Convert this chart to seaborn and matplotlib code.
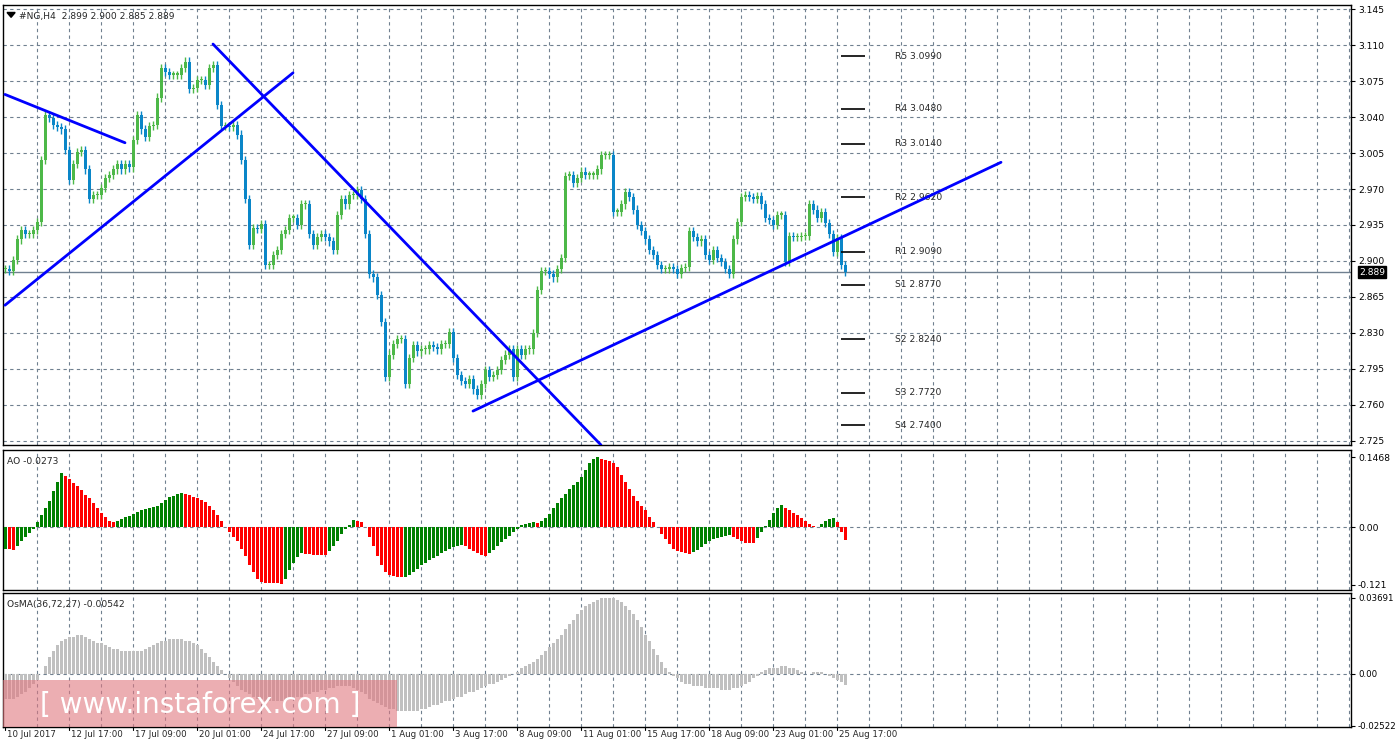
import numpy as np
import matplotlib
matplotlib.use("Agg")
import matplotlib.pyplot as plt
import seaborn as sns
from matplotlib.patches import Rectangle

# ── data ──────────────────────────────────────────────
closes = [
    2.892, 2.890, 2.901, 2.921, 2.930, 2.926, 2.926, 2.930, 2.938, 2.998,
    3.042, 3.039, 3.032, 3.030, 3.028, 3.008, 2.979, 2.994, 3.006, 3.008,
    2.989, 2.960, 2.964, 2.964, 2.971, 2.981, 2.984, 2.989, 2.994, 2.989,
    2.994, 2.991, 3.018, 3.042, 3.028, 3.021, 3.031, 3.032, 3.059, 3.088,
    3.084, 3.081, 3.081, 3.081, 3.088, 3.094, 3.067, 3.068, 3.076, 3.076,
    3.071, 3.088, 3.091,
    3.052, 3.031, 3.031, 3.030, 3.032, 3.023, 2.998, 2.960, 2.916, 2.932,
    2.931, 2.936, 2.896, 2.896, 2.906, 2.911, 2.926, 2.930, 2.942, 2.942,
    2.935, 2.955, 2.955, 2.926, 2.916, 2.923, 2.926, 2.923, 2.919, 2.911,
    2.945, 2.960, 2.955, 2.964, 2.964, 2.969, 2.960, 2.926, 2.887, 2.884,
    2.867, 2.841, 2.787, 2.809, 2.819, 2.824, 2.824, 2.780, 2.806, 2.818,
    2.812, 2.814, 2.814, 2.818, 2.816, 2.814, 2.819, 2.819,
    2.831, 2.806, 2.789, 2.783, 2.780, 2.785, 2.775, 2.770, 2.780, 2.794,
    2.787, 2.789, 2.794, 2.804, 2.809, 2.814, 2.787, 2.814, 2.809, 2.814,
    2.814, 2.830, 2.872, 2.890, 2.890, 2.887, 2.884, 2.892, 2.903, 2.983,
    2.984, 2.976, 2.981, 2.987, 2.984, 2.984, 2.984, 2.989, 3.003, 3.003,
    3.003, 2.948, 2.948, 2.955, 2.967, 2.962, 2.950, 2.935, 2.929, 2.921,
    2.911, 2.906, 2.896, 2.892, 2.892, 2.894, 2.892, 2.887, 2.893, 2.894,
    2.929, 2.923, 2.919, 2.921, 2.906, 2.901, 2.911, 2.903, 2.899, 2.892,
    2.887, 2.921, 2.938, 2.962, 2.964, 2.962, 2.960, 2.963, 2.955, 2.942,
    2.940, 2.935, 2.945, 2.945, 2.899, 2.924, 2.923, 2.923, 2.924, 2.924,
    2.955, 2.950, 2.942, 2.948, 2.937, 2.926, 2.909, 2.922, 2.896, 2.889,
]

ao = [
    -0.046, -0.046, -0.048, -0.040, -0.030, -0.020, -0.012, -0.005, 0.010, 0.025,
    0.040, 0.055, 0.075, 0.095, 0.113, 0.108, 0.100, 0.093, 0.085, 0.077,
    0.068, 0.060, 0.050, 0.040, 0.030, 0.020, 0.012, 0.010, 0.012, 0.016,
    0.020, 0.024, 0.028, 0.032, 0.036, 0.038, 0.040, 0.042, 0.044, 0.050,
    0.056, 0.062, 0.066, 0.070, 0.071, 0.070, 0.068, 0.064, 0.060, 0.056,
    0.052, 0.045, 0.035, 0.025, 0.012, 0.000, -0.010, -0.020, -0.030, -0.045,
    -0.060, -0.080, -0.095, -0.108, -0.115, -0.118, -0.118, -0.118, -0.118, -0.119,
    -0.108, -0.090, -0.075, -0.062,
    -0.055, -0.056, -0.057, -0.058, -0.058, -0.059, -0.059,
    -0.050, -0.040, -0.030, -0.015, -0.005, 0.005,
    0.015, 0.012, 0.010, 0.000,
    -0.020, -0.040, -0.060, -0.080, -0.095, -0.100, -0.102, -0.104, -0.105,
    -0.104, -0.100, -0.095, -0.088, -0.080, -0.075, -0.070, -0.065, -0.060, -0.055,
    -0.050, -0.045, -0.042, -0.040, -0.038,
    -0.040, -0.045, -0.050, -0.055, -0.058, -0.060,
    -0.055, -0.048, -0.040, -0.032, -0.025, -0.018, -0.010, -0.004,
    0.004, 0.006, 0.008, 0.010, 0.008, 0.012,
    0.018, 0.028, 0.040, 0.050, 0.060, 0.070, 0.080, 0.088, 0.095, 0.105,
    0.120, 0.135, 0.142, 0.146,
    0.143, 0.140, 0.138, 0.135, 0.125, 0.110, 0.095, 0.080, 0.065, 0.055,
    0.045, 0.035, 0.022, 0.010, 0.000, -0.015, -0.025, -0.035, -0.045, -0.050,
    -0.053, -0.055, -0.056,
    -0.053, -0.048, -0.042, -0.036, -0.030, -0.025, -0.022, -0.020, -0.018, -0.017,
    -0.020, -0.026, -0.030, -0.033, -0.034, -0.0345,
    -0.022, -0.010, 0.003, 0.015, 0.030, 0.040, 0.046,
    0.040, 0.035, 0.030, 0.025, 0.018, 0.012, 0.006, 0.002, 0.000,
    0.006, 0.012, 0.016, 0.018,
    0.010, -0.010, -0.0273,
]

osma = [
    -0.012, -0.012, -0.012, -0.011, -0.010, -0.009, -0.007, -0.005, -0.003, 0.000,
    0.004, 0.008, 0.011, 0.014, 0.016, 0.017, 0.018, 0.018, 0.019, 0.019,
    0.018, 0.017, 0.016, 0.015, 0.015, 0.014, 0.013, 0.012, 0.012, 0.011,
    0.011, 0.011, 0.011, 0.011, 0.011, 0.012, 0.013, 0.014, 0.015, 0.016,
    0.016, 0.017, 0.017, 0.017, 0.017, 0.016, 0.016, 0.015, 0.014, 0.012,
    0.010, 0.008, 0.006, 0.004, 0.002, 0.000, -0.002, -0.004, -0.006, -0.008,
    -0.009, -0.010, -0.011, -0.012, -0.012, -0.013, -0.013, -0.013, -0.013, -0.013,
    -0.013, -0.012, -0.012, -0.011, -0.011, -0.010, -0.010, -0.009, -0.009, -0.008,
    -0.008, -0.007, -0.007, -0.006, -0.006, -0.006, -0.006, -0.007, -0.008, -0.009,
    -0.010, -0.012, -0.013, -0.014, -0.015, -0.016, -0.017, -0.017, -0.018, -0.018,
    -0.018, -0.018, -0.018, -0.018, -0.017, -0.017, -0.016, -0.015, -0.015, -0.014,
    -0.013, -0.013, -0.012, -0.011, -0.011, -0.010, -0.009, -0.009, -0.008, -0.007,
    -0.006, -0.005, -0.005, -0.004, -0.003, -0.002, -0.001, 0.000, 0.001, 0.003,
    0.004, 0.005, 0.006, 0.007, 0.009, 0.011, 0.013, 0.015, 0.017, 0.019,
    0.022, 0.024, 0.026, 0.029, 0.031, 0.033, 0.034, 0.035, 0.036, 0.037,
    0.037, 0.037, 0.037, 0.036, 0.035, 0.033, 0.031, 0.029, 0.026, 0.023,
    0.019, 0.016, 0.012, 0.009, 0.006, 0.003, 0.001, -0.001, -0.002, -0.004,
    -0.005, -0.005, -0.006, -0.006, -0.006, -0.007, -0.007, -0.007, -0.007, -0.008,
    -0.008, -0.008, -0.007, -0.007, -0.006, -0.005, -0.004, -0.002, -0.001, 0.001,
    0.002, 0.003, 0.003, 0.003, 0.004, 0.004, 0.003, 0.003, 0.002, 0.001,
    0.000, 0.000, 0.001, 0.001, 0.001, 0.000, -0.001, -0.002, -0.003, -0.004, -0.00542,
]

date_labels = ["10 Jul 2017", "12 Jul 17:00", "17 Jul 09:00", "20 Jul 01:00",
               "24 Jul 17:00", "27 Jul 09:00", "1 Aug 01:00", "3 Aug 17:00",
               "8 Aug 09:00", "11 Aug 01:00", "15 Aug 17:00", "18 Aug 09:00",
               "23 Aug 01:00", "25 Aug 17:00"]

pivot_names = ["R5", "R4", "R3", "R2", "R1", "S1", "S2", "S3", "S4"]
pivot_levels = [3.0990, 3.0480, 3.0140, 2.9620, 2.9090, 2.8770, 2.8240, 2.7720, 2.7400]

# trend lines: (bar0, price0, bar1, price1)
trend_lines = [
    (0, 3.062, 30, 3.015),
    (0, 2.857, 72, 3.083),
    (52, 3.111, 149, 2.721),
    (117, 2.754, 249, 2.996),
]

last_price = 2.889

# ── style ─────────────────────────────────────────────
sns.set_style("white")
plt.rcParams["font.family"] = ["DejaVu Sans"]
FS = 6.6

W, H = 1398, 750
fig = plt.figure(figsize=(W / 100, H / 100), dpi=100)
fig.patch.set_facecolor("white")

def px_axes(x0, y0, x1, y1):
    return fig.add_axes([x0 / W, 1 - y1 / H, (x1 - x0) / W, (y1 - y0) / H])

ax1 = px_axes(3, 5, 1351, 445)
ax2 = px_axes(3, 450, 1351, 590)
ax3 = px_axes(3, 593, 1351, 727)

n = len(closes)
idx = np.arange(n)
opens = np.r_[closes[0], closes[:-1]]
c = np.array(closes)
bull = c >= opens
xmax = 336.5
grid_x = np.arange(8, 337, 8)
GRID = dict(color="#708090", ls=(0, (3, 3)), lw=0.8)

for ax in (ax1, ax2, ax3):
    ax.set_xlim(-0.5, xmax)
    for g in grid_x:
        ax.axvline(g, zorder=0, **GRID)
    ax.yaxis.tick_right()
    ax.set_xticks([])
    for s in ax.spines.values():
        s.set_color("black")
        s.set_linewidth(1)
    ax.tick_params(axis="y", length=3, labelsize=FS, pad=2, colors="black")

# ── main price panel ──────────────────────────────────
ax1.set_ylim(2.721, 3.149)
price_ticks = np.round(np.arange(2.725, 3.146, 0.035), 3)
ax1.set_yticks(price_ticks)
ax1.set_yticklabels([f"{t:.3f}" for t in price_ticks])
for t in price_ticks:
    ax1.axhline(t, zorder=0, **GRID)

up_col, dn_col = "#4DB848", "#0A86C8"
cols = np.where(bull, up_col, dn_col)
hi = np.maximum(opens, c) + 0.004
lo = np.minimum(opens, c) - 0.004
ax1.vlines(idx, lo, hi, colors=cols, lw=1, zorder=3)
body = np.abs(c - opens)
body = np.where(body < 0.0015, 0.0015, body)
ax1.bar(idx, body, bottom=np.minimum(opens, c), width=0.75, color=cols,
        edgecolor="none", linewidth=0, zorder=4)

ax1.axhline(last_price, color="#708090", lw=1, zorder=2)
for b0, p0, b1, p1 in trend_lines:
    sns.lineplot(x=[b0, b1], y=[p0, p1], ax=ax1, color="#0000FF", lw=2, zorder=5)

for name, lvl in zip(pivot_names, pivot_levels):
    ax1.hlines(lvl, 209, 215, color="black", lw=1.2, zorder=5)
    ax1.text(222.5, lvl, f"{name} {lvl:.4f}", fontsize=FS, va="center", ha="left")

ax1.text(1.006, (last_price - 2.721) / (3.149 - 2.721), f"{last_price:.3f}",
         transform=ax1.transAxes, fontsize=FS, color="white", va="center", ha="left",
         bbox=dict(boxstyle="square,pad=0.15", fc="black", ec="black"), clip_on=False)
ax1.text(0.012, 0.985, "#NG,H4  2.899 2.900 2.885 2.889", transform=ax1.transAxes,
         fontsize=FS, va="top", ha="left")
ax1.fill([0.003, 0.009, 0.006], [0.983, 0.983, 0.972], transform=ax1.transAxes, color="black")

# ── AO panel ──────────────────────────────────────────
a = np.array(ao)
m = len(a)
ao_cols = np.where(np.r_[True, a[1:] > a[:-1]], "#008000", "#FF0000")
ax2.bar(np.arange(m), a, width=0.75, color=ao_cols, edgecolor="none", linewidth=0, zorder=3)
ax2.set_ylim(-0.132, 0.1615)
ax2.axhline(0, zorder=0, **GRID)
ax2.set_yticks([0.1468, 0.0, -0.121])
ax2.set_yticklabels(["0.1468", "0.00", "-0.121"])
ax2.text(0.003, 0.95, f"AO {ao[-1]:.4f}", transform=ax2.transAxes, fontsize=FS, va="top")

# ── OsMA panel ────────────────────────────────────────
o = np.array(osma)
ax3.bar(np.arange(len(o)), o, width=0.75, color="#C0C0C0", edgecolor="none", linewidth=0, zorder=3)
ax3.set_ylim(-0.0258, 0.0393)
ax3.axhline(0, zorder=0, **GRID)
ax3.set_yticks([0.03691, 0.0, -0.02522])
ax3.set_yticklabels(["0.03691", "0.00", "-0.02522"], fontsize=6.2)
ax3.text(0.003, 0.95, f"OsMA(36,72,27) {osma[-1]:.5f}", transform=ax3.transAxes,
         fontsize=FS, va="top")

# date labels along the bottom
for k, lab in enumerate(date_labels):
    xb = 16 * k
    ax3.plot([xb, xb], [-0.0258, -0.0272], color="black", lw=0.8, clip_on=False)
    ax3.text(xb + 0.5, -0.0274, lab, fontsize=6.2, ha="left", va="top", clip_on=False)

# watermark
fig.patches.append(Rectangle((3 / W, 1 - 727 / H), 394 / W, 47 / H, transform=fig.transFigure,
                             facecolor="#E07880", alpha=0.6, edgecolor="none", zorder=10))
fig.text(200 / W, 1 - 705 / H, "[ www.instaforex.com ]", fontsize=20, color="white",
         ha="center", va="center", zorder=11)

fig.savefig("out.png", dpi=100, facecolor="white")
